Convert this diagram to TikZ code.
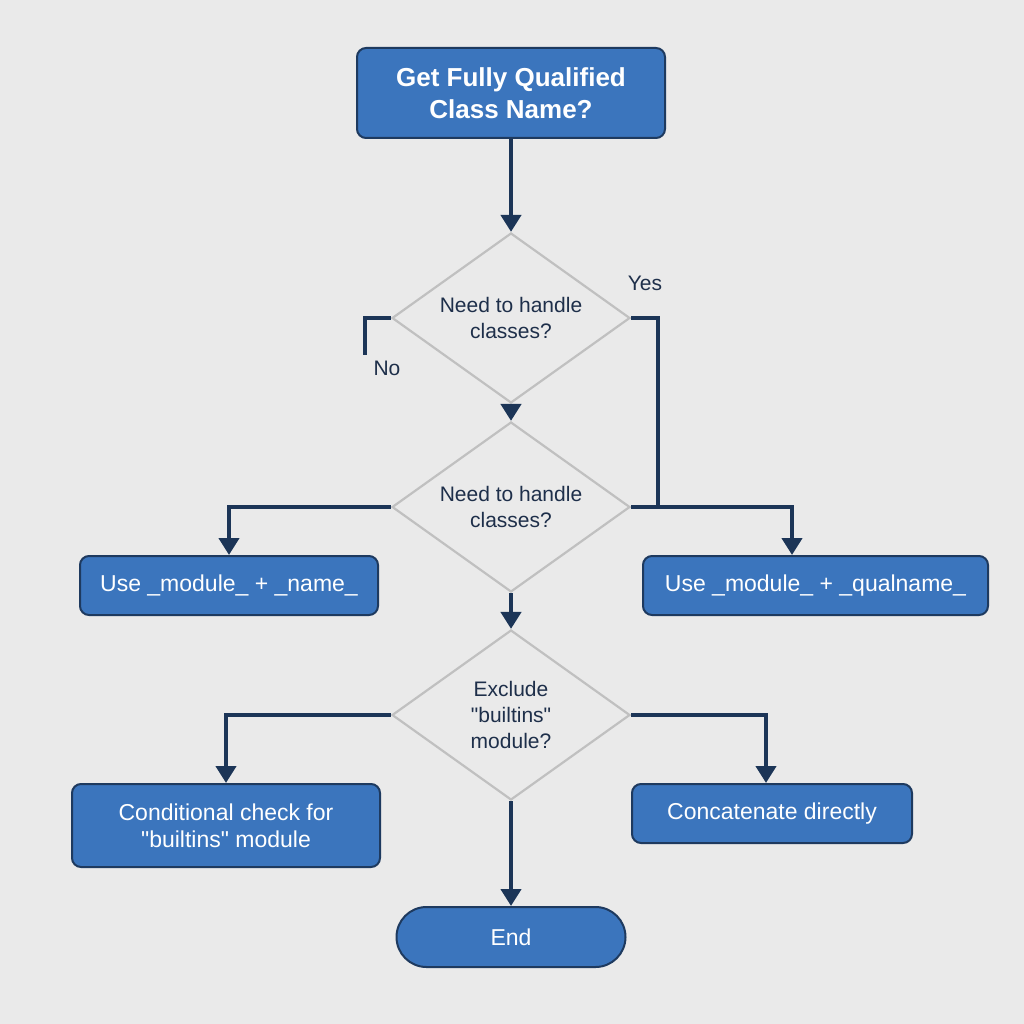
\documentclass[tikz,border=0pt]{standalone}
\usepackage{fontspec}
\setmainfont{Liberation Sans}[Ligatures=TeXOff]
\usetikzlibrary{shapes.geometric,arrows.meta}
\definecolor{bg}{HTML}{EAEAEA}
\definecolor{boxfill}{HTML}{3B75BD}
\definecolor{boxline}{HTML}{1E3A5F}
\definecolor{navy}{HTML}{1C3557}
\definecolor{dgray}{HTML}{C0C0C0}
\definecolor{txt}{HTML}{1E2F4A}
\begin{document}
\begin{tikzpicture}[x=1pt,y=-1pt,
 box/.style={draw=boxline, line width=2pt, fill=boxfill, rounded corners=9pt, text=white, align=center, inner sep=0pt, font=\fontsize{23}{27}\selectfont},
 dec/.style={draw=dgray, line width=2.2pt, shape=diamond, inner sep=0pt, minimum width=238pt, minimum height=170pt, aspect=1.4, text=txt, align=center, font=\fontsize{21}{26}\selectfont},
 conn/.style={draw=navy, line width=4.5pt},
 arr/.style={conn, -{Triangle[width=20pt,length=17pt]}},
 lab/.style={text=txt, font=\fontsize{21}{24}\selectfont}]
\fill[bg] (0,0) rectangle (1024,1024);
\useasboundingbox (0,0) rectangle (1024,1024);

\node[box, minimum width=308pt, minimum height=90pt, font=\bfseries\fontsize{26}{32}\selectfont] (start) at (511,93) {Get Fully Qualified\\Class Name?};
\node[dec] (d1) at (511,318) {Need to handle\\classes?};
\node[dec] (d2) at (511,507) {Need to handle\\classes?};
\node[dec] (d3) at (511,715) {Exclude\\"builtins"\\module?};
\node[box, minimum width=298pt, minimum height=59pt] (l1) at (229,585.5) {Use \_module\_ + \_name\_};
\node[box, minimum width=345pt, minimum height=59pt] (r1) at (815.5,585.5) {Use \_module\_ + \_qualname\_};
\node[box, minimum width=308pt, minimum height=83pt] (l2) at (226,825.5) {Conditional check for\\"builtins" module};
\node[box, minimum width=280pt, minimum height=59pt] (r2) at (772,813.5) {Concatenate directly};
\node[box, minimum width=229pt, minimum height=60pt, rounded corners=30pt] (end) at (511,937) {End};

\node[lab] (yes) at (645,283) {Yes};
\node[lab] (no) at (387,368) {No};
\coordinate (nodrop) at (365,355);
\coordinate (yesdrop) at (658,507);

\draw[arr] (start.south) -- (d1.north);
\draw[arr] (d1.south) -- (d2.north);
\draw[arr] (d2.south) -- (d3.north);
\draw[arr] (d3.south) -- (end.north);
\draw[conn] (d1.west) -| (nodrop);
\draw[conn] (d1.east) -| (yesdrop);
\draw[arr] (d2.west) -| (l1.north);
\draw[arr] (d2.east) -| ([xshift=-23.5pt]r1.north);
\draw[arr] (d3.west) -| (l2.north);
\draw[arr] (d3.east) -| ([xshift=-6pt]r2.north);
\end{tikzpicture}
\end{document}
